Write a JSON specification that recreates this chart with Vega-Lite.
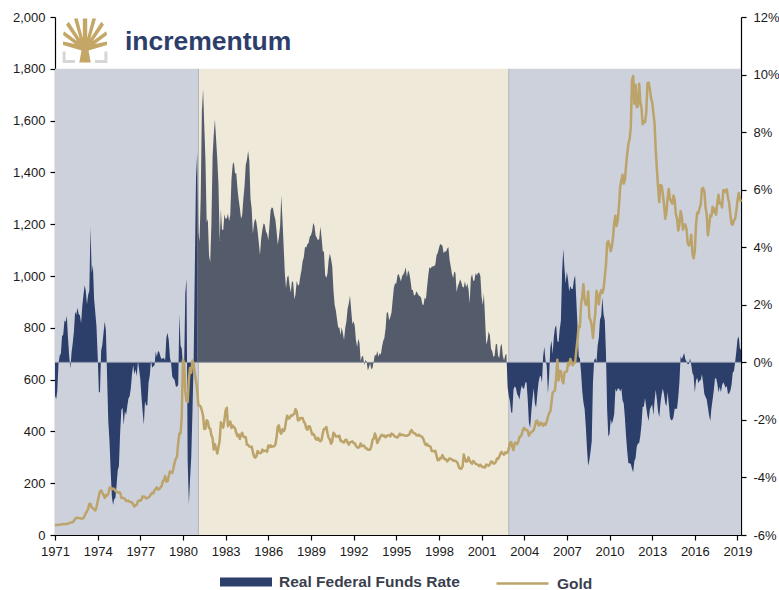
{
"$schema":"https://vega.github.io/schema/vega-lite/v6.json",
"width":686,"height":518,
"autosize":{"type":"none"},
"padding":{"left":55,"top":17,"right":38,"bottom":55},
"background":"white",
"config":{"view":{"stroke":null},
 "axis":{"labelFont":"Liberation Sans","labelFontSize":13,"labelColor":"#1a1a1a","domainColor":"#000","tickColor":"#000","tickSize":5,"grid":false,"labelFlush":false,"labelOverlap":false,"title":null},
 "legend":{"labelFont":"Liberation Sans","labelFontSize":15.5,"labelFontWeight":"bold","labelColor":"#3a3f4d","labelOffset":20,"labelLimit":400,"padding":0,"title":null}},
"datasets":{
"eras":[{"start":"1971-01-01","end":"1981-02-01","period":"1971-1980"},{"start":"1981-02-01","end":"2002-12-01","period":"1981-2002"},{"start":"2002-12-01","end":"2019-04-01","period":"2003-2019"}],
"m":[
{"d":"1971-01","g":37.9,"r":-1.16},{"d":"1971-02","g":38.7,"r":-1.28},{"d":"1971-03","g":38.9,"r":-0.99},{"d":"1971-04","g":39.0,"r":-0.04},{"d":"1971-05","g":40.5,"r":0.23},{"d":"1971-06","g":40.1,"r":0.31},{"d":"1971-07","g":41.0,"r":0.91},{"d":"1971-08","g":42.7,"r":0.97},{"d":"1971-09","g":42.0,"r":1.45},{"d":"1971-10","g":42.5,"r":1.40},{"d":"1971-11","g":42.9,"r":1.61},{"d":"1971-12","g":43.5,"r":0.84},
{"d":"1972-01","g":45.7,"r":0.20},{"d":"1972-02","g":48.3,"r":-0.21},{"d":"1972-03","g":48.3,"r":0.33},{"d":"1972-04","g":49.0,"r":0.67},{"d":"1972-05","g":54.6,"r":1.07},{"d":"1972-06","g":62.1,"r":1.76},{"d":"1972-07","g":65.7,"r":1.65},{"d":"1972-08","g":67.0,"r":1.90},{"d":"1972-09","g":65.5,"r":1.67},{"d":"1972-10","g":64.9,"r":1.64},{"d":"1972-11","g":62.9,"r":1.36},{"d":"1972-12","g":63.9,"r":1.93},
{"d":"1973-01","g":65.1,"r":2.34},{"d":"1973-02","g":74.2,"r":2.68},{"d":"1973-03","g":84.4,"r":2.49},{"d":"1973-04","g":90.5,"r":2.02},{"d":"1973-05","g":102.0,"r":2.34},{"d":"1973-06","g":120.1,"r":2.49},{"d":"1973-07","g":120.4,"r":4.70},{"d":"1973-08","g":106.8,"r":3.10},{"d":"1973-09","g":103.0,"r":3.38},{"d":"1973-10","g":100.1,"r":2.21},{"d":"1973-11","g":94.8,"r":1.73},{"d":"1973-12","g":106.7,"r":1.25},
{"d":"1974-01","g":129.2,"r":0.25},{"d":"1974-02","g":150.2,"r":-1.03},{"d":"1974-03","g":168.4,"r":-1.05},{"d":"1974-04","g":172.2,"r":0.41},{"d":"1974-05","g":163.3,"r":0.61},{"d":"1974-06","g":154.1,"r":1.03},{"d":"1974-07","g":143.0,"r":1.42},{"d":"1974-08","g":154.6,"r":1.11},{"d":"1974-09","g":151.8,"r":-0.56},{"d":"1974-10","g":158.8,"r":-2.04},{"d":"1974-11","g":181.7,"r":-2.75},{"d":"1974-12","g":183.9,"r":-3.77},
{"d":"1975-01","g":176.3,"r":-4.67},{"d":"1975-02","g":179.6,"r":-4.96},{"d":"1975-03","g":178.2,"r":-4.76},{"d":"1975-04","g":169.9,"r":-4.71},{"d":"1975-05","g":167.2,"r":-4.28},{"d":"1975-06","g":164.2,"r":-3.75},{"d":"1975-07","g":165.2,"r":-3.60},{"d":"1975-08","g":163.1,"r":-2.46},{"d":"1975-09","g":144.1,"r":-1.66},{"d":"1975-10","g":142.8,"r":-1.58},{"d":"1975-11","g":142.8,"r":-2.18},{"d":"1975-12","g":139.3,"r":-1.70},
{"d":"1976-01","g":131.6,"r":-1.83},{"d":"1976-02","g":131.0,"r":-1.53},{"d":"1976-03","g":132.6,"r":-1.26},{"d":"1976-04","g":128.4,"r":-1.18},{"d":"1976-05","g":127.2,"r":-0.91},{"d":"1976-06","g":125.7,"r":-0.42},{"d":"1976-07","g":118.2,"r":-0.09},{"d":"1976-08","g":109.9,"r":-0.41},{"d":"1976-09","g":114.4,"r":-0.25},{"d":"1976-10","g":116.4,"r":-0.48},{"d":"1976-11","g":130.8,"r":0.05},{"d":"1976-12","g":133.7,"r":-0.25},
{"d":"1977-01","g":132.3,"r":-0.59},{"d":"1977-02","g":136.3,"r":-1.22},{"d":"1977-03","g":148.4,"r":-1.71},{"d":"1977-04","g":149.1,"r":-2.17},{"d":"1977-05","g":146.5,"r":-1.35},{"d":"1977-06","g":141.0,"r":-1.51},{"d":"1977-07","g":143.4,"r":-1.48},{"d":"1977-08","g":144.8,"r":-0.70},{"d":"1977-09","g":149.6,"r":-0.46},{"d":"1977-10","g":158.3,"r":0.07},{"d":"1977-11","g":162.2,"r":-0.19},{"d":"1977-12","g":160.5,"r":-0.14},
{"d":"1978-01","g":173.2,"r":-0.10},{"d":"1978-02","g":178.2,"r":0.38},{"d":"1978-03","g":183.7,"r":0.19},{"d":"1978-04","g":175.4,"r":0.39},{"d":"1978-05","g":176.4,"r":0.36},{"d":"1978-06","g":183.5,"r":0.20},{"d":"1978-07","g":188.5,"r":0.11},{"d":"1978-08","g":206.2,"r":0.14},{"d":"1978-09","g":212.5,"r":0.15},{"d":"1978-10","g":227.2,"r":0.06},{"d":"1978-11","g":206.0,"r":0.86},{"d":"1978-12","g":207.0,"r":1.03},
{"d":"1979-01","g":227.3,"r":0.77},{"d":"1979-02","g":245.7,"r":0.16},{"d":"1979-03","g":242.1,"r":-0.01},{"d":"1979-04","g":239.2,"r":-0.49},{"d":"1979-05","g":257.3,"r":-0.56},{"d":"1979-06","g":279.6,"r":-0.61},{"d":"1979-07","g":294.6,"r":-0.83},{"d":"1979-08","g":301.4,"r":-0.86},{"d":"1979-09","g":355.3,"r":-0.77},{"d":"1979-10","g":392.0,"r":1.67},{"d":"1979-11","g":392.0,"r":0.58},{"d":"1979-12","g":459.0,"r":0.48},
{"d":"1980-01","g":675.3,"r":-0.08},{"d":"1980-02","g":665.3,"r":-0.07},{"d":"1980-03","g":553.6,"r":2.39},{"d":"1980-04","g":517.4,"r":2.91},{"d":"1980-05","g":513.8,"r":-3.42},{"d":"1980-06","g":600.7,"r":-4.93},{"d":"1980-07","g":645.0,"r":-4.07},{"d":"1980-08","g":626.5,"r":-3.29},{"d":"1980-09","g":673.6,"r":-1.73},{"d":"1980-10","g":661.2,"r":0.01},{"d":"1980-11","g":623.5,"r":3.25},{"d":"1980-12","g":594.9,"r":6.40},
{"d":"1981-01","g":557.5,"r":7.28},{"d":"1981-02","g":500.5,"r":4.53},{"d":"1981-03","g":499.8,"r":4.20},{"d":"1981-04","g":495.8,"r":5.72},{"d":"1981-05","g":479.7,"r":8.72},{"d":"1981-06","g":460.8,"r":9.50},{"d":"1981-07","g":409.3,"r":8.24},{"d":"1981-08","g":410.9,"r":7.02},{"d":"1981-09","g":443.2,"r":4.87},{"d":"1981-10","g":437.8,"r":4.98},{"d":"1981-11","g":413.4,"r":3.71},{"d":"1981-12","g":410.1,"r":3.47},
{"d":"1982-01","g":384.0,"r":4.82},{"d":"1982-02","g":374.2,"r":7.18},{"d":"1982-03","g":330.0,"r":7.88},{"d":"1982-04","g":350.4,"r":8.44},{"d":"1982-05","g":333.9,"r":7.75},{"d":"1982-06","g":314.9,"r":7.05},{"d":"1982-07","g":339.0,"r":6.19},{"d":"1982-08","g":364.4,"r":4.22},{"d":"1982-09","g":435.3,"r":5.31},{"d":"1982-10","g":422.2,"r":4.61},{"d":"1982-11","g":414.4,"r":4.60},{"d":"1982-12","g":444.7,"r":5.15},
{"d":"1983-01","g":481.3,"r":4.98},{"d":"1983-02","g":491.3,"r":5.01},{"d":"1983-03","g":419.8,"r":5.17},{"d":"1983-04","g":432.1,"r":4.90},{"d":"1983-05","g":438.4,"r":5.13},{"d":"1983-06","g":412.8,"r":6.38},{"d":"1983-07","g":422.7,"r":6.87},{"d":"1983-08","g":416.2,"r":6.96},{"d":"1983-09","g":411.7,"r":6.55},{"d":"1983-10","g":393.6,"r":6.58},{"d":"1983-11","g":381.6,"r":6.04},{"d":"1983-12","g":388.0,"r":5.67},
{"d":"1984-01","g":370.9,"r":5.36},{"d":"1984-02","g":386.3,"r":4.99},{"d":"1984-03","g":394.4,"r":5.11},{"d":"1984-04","g":381.2,"r":5.69},{"d":"1984-05","g":377.4,"r":6.12},{"d":"1984-06","g":377.9,"r":6.86},{"d":"1984-07","g":348.1,"r":7.03},{"d":"1984-08","g":348.1,"r":7.34},{"d":"1984-09","g":341.3,"r":7.00},{"d":"1984-10","g":340.2,"r":5.69},{"d":"1984-11","g":341.2,"r":5.33},{"d":"1984-12","g":320.2,"r":4.48},
{"d":"1985-01","g":303.1,"r":4.85},{"d":"1985-02","g":298.9,"r":5.00},{"d":"1985-03","g":304.0,"r":4.88},{"d":"1985-04","g":324.7,"r":4.57},{"d":"1985-05","g":316.2,"r":4.17},{"d":"1985-06","g":316.9,"r":3.73},{"d":"1985-07","g":317.0,"r":4.28},{"d":"1985-08","g":329.9,"r":4.60},{"d":"1985-09","g":323.4,"r":4.82},{"d":"1985-10","g":325.6,"r":4.79},{"d":"1985-11","g":325.1,"r":4.55},{"d":"1985-12","g":321.8,"r":4.47},
{"d":"1986-01","g":345.4,"r":4.24},{"d":"1986-02","g":339.0,"r":4.76},{"d":"1986-03","g":346.1,"r":5.28},{"d":"1986-04","g":340.4,"r":5.39},{"d":"1986-05","g":342.6,"r":5.35},{"d":"1986-06","g":342.7,"r":5.12},{"d":"1986-07","g":348.5,"r":4.96},{"d":"1986-08","g":376.3,"r":4.57},{"d":"1986-09","g":418.0,"r":4.09},{"d":"1986-10","g":423.3,"r":4.35},{"d":"1986-11","g":398.5,"r":4.74},{"d":"1986-12","g":390.8,"r":5.81},
{"d":"1987-01","g":408.2,"r":4.93},{"d":"1987-02","g":401.3,"r":4.00},{"d":"1987-03","g":408.9,"r":3.13},{"d":"1987-04","g":438.4,"r":2.57},{"d":"1987-05","g":460.4,"r":2.95},{"d":"1987-06","g":449.8,"r":3.03},{"d":"1987-07","g":450.6,"r":2.68},{"d":"1987-08","g":461.1,"r":2.43},{"d":"1987-09","g":460.1,"r":2.82},{"d":"1987-10","g":465.4,"r":2.79},{"d":"1987-11","g":467.2,"r":2.19},{"d":"1987-12","g":486.1,"r":2.37},
{"d":"1988-01","g":477.0,"r":2.83},{"d":"1988-02","g":442.6,"r":2.68},{"d":"1988-03","g":443.6,"r":2.68},{"d":"1988-04","g":452.1,"r":2.97},{"d":"1988-05","g":451.2,"r":3.19},{"d":"1988-06","g":451.4,"r":3.51},{"d":"1988-07","g":437.5,"r":3.65},{"d":"1988-08","g":431.4,"r":4.01},{"d":"1988-09","g":412.7,"r":3.99},{"d":"1988-10","g":406.2,"r":4.10},{"d":"1988-11","g":419.8,"r":4.15},{"d":"1988-12","g":419.2,"r":4.36},
{"d":"1989-01","g":404.5,"r":4.42},{"d":"1989-02","g":388.1,"r":4.56},{"d":"1989-03","g":390.4,"r":4.85},{"d":"1989-04","g":384.2,"r":4.74},{"d":"1989-05","g":371.3,"r":4.41},{"d":"1989-06","g":367.6,"r":4.33},{"d":"1989-07","g":375.0,"r":4.24},{"d":"1989-08","g":365.4,"r":4.29},{"d":"1989-09","g":361.9,"r":4.72},{"d":"1989-10","g":366.9,"r":4.34},{"d":"1989-11","g":393.7,"r":3.85},{"d":"1989-12","g":409.2,"r":3.85},
{"d":"1990-01","g":410.1,"r":3.03},{"d":"1990-02","g":416.7,"r":2.94},{"d":"1990-03","g":393.1,"r":3.08},{"d":"1990-04","g":374.3,"r":3.56},{"d":"1990-05","g":369.1,"r":3.78},{"d":"1990-06","g":352.3,"r":3.59},{"d":"1990-07","g":361.6,"r":3.35},{"d":"1990-08","g":394.8,"r":2.53},{"d":"1990-09","g":389.3,"r":2.00},{"d":"1990-10","g":380.8,"r":1.81},{"d":"1990-11","g":381.4,"r":1.51},{"d":"1990-12","g":378.2,"r":1.21},
{"d":"1991-01","g":383.7,"r":1.21},{"d":"1991-02","g":363.3,"r":0.95},{"d":"1991-03","g":363.5,"r":1.22},{"d":"1991-04","g":358.4,"r":1.01},{"d":"1991-05","g":356.8,"r":0.78},{"d":"1991-06","g":366.7,"r":1.20},{"d":"1991-07","g":367.7,"r":1.42},{"d":"1991-08","g":356.3,"r":1.86},{"d":"1991-09","g":348.7,"r":2.05},{"d":"1991-10","g":358.6,"r":2.31},{"d":"1991-11","g":359.6,"r":1.81},{"d":"1991-12","g":361.7,"r":1.33},
{"d":"1992-01","g":354.5,"r":1.43},{"d":"1992-02","g":353.9,"r":1.26},{"d":"1992-03","g":344.3,"r":0.78},{"d":"1992-04","g":338.5,"r":0.53},{"d":"1992-05","g":337.2,"r":0.82},{"d":"1992-06","g":340.8,"r":0.66},{"d":"1992-07","g":353.1,"r":0.05},{"d":"1992-08","g":342.9,"r":0.20},{"d":"1992-09","g":345.4,"r":0.22},{"d":"1992-10","g":344.4,"r":-0.10},{"d":"1992-11","g":335.0,"r":0.09},{"d":"1992-12","g":334.8,"r":0.02},
{"d":"1993-01","g":329.0,"r":-0.28},{"d":"1993-02","g":329.3,"r":-0.17},{"d":"1993-03","g":330.1,"r":-0.03},{"d":"1993-04","g":342.2,"r":-0.24},{"d":"1993-05","g":367.2,"r":-0.20},{"d":"1993-06","g":371.9,"r":0.04},{"d":"1993-07","g":392.0,"r":0.26},{"d":"1993-08","g":378.8,"r":0.23},{"d":"1993-09","g":355.3,"r":0.39},{"d":"1993-10","g":364.2,"r":0.19},{"d":"1993-11","g":373.8,"r":0.32},{"d":"1993-12","g":383.3,"r":0.26},
{"d":"1994-01","g":386.9,"r":0.55},{"d":"1994-02","g":381.9,"r":0.75},{"d":"1994-03","g":384.1,"r":0.84},{"d":"1994-04","g":377.3,"r":1.16},{"d":"1994-05","g":381.4,"r":1.71},{"d":"1994-06","g":385.6,"r":1.75},{"d":"1994-07","g":385.5,"r":1.46},{"d":"1994-08","g":380.4,"r":1.57},{"d":"1994-09","g":391.6,"r":1.73},{"d":"1994-10","g":389.8,"r":2.16},{"d":"1994-11","g":384.4,"r":2.59},{"d":"1994-12","g":379.3,"r":2.75},
{"d":"1995-01","g":378.6,"r":2.73},{"d":"1995-02","g":376.5,"r":3.02},{"d":"1995-03","g":382.1,"r":3.08},{"d":"1995-04","g":391.0,"r":2.95},{"d":"1995-05","g":385.2,"r":2.81},{"d":"1995-06","g":387.6,"r":3.00},{"d":"1995-07","g":386.2,"r":3.05},{"d":"1995-08","g":383.7,"r":3.14},{"d":"1995-09","g":383.1,"r":3.30},{"d":"1995-10","g":383.0,"r":2.96},{"d":"1995-11","g":385.5,"r":3.20},{"d":"1995-12","g":387.4,"r":3.10},
{"d":"1996-01","g":400.0,"r":2.86},{"d":"1996-02","g":404.8,"r":2.52},{"d":"1996-03","g":396.2,"r":2.51},{"d":"1996-04","g":392.9,"r":2.32},{"d":"1996-05","g":391.9,"r":2.34},{"d":"1996-06","g":385.3,"r":2.47},{"d":"1996-07","g":383.5,"r":2.40},{"d":"1996-08","g":387.5,"r":2.32},{"d":"1996-09","g":383.1,"r":2.30},{"d":"1996-10","g":381.1,"r":2.24},{"d":"1996-11","g":378.0,"r":2.01},{"d":"1996-12","g":369.0,"r":1.99},
{"d":"1997-01","g":354.9,"r":2.25},{"d":"1997-02","g":346.6,"r":2.19},{"d":"1997-03","g":351.8,"r":2.59},{"d":"1997-04","g":344.5,"r":3.01},{"d":"1997-05","g":343.8,"r":3.30},{"d":"1997-06","g":340.8,"r":3.26},{"d":"1997-07","g":324.1,"r":3.32},{"d":"1997-08","g":324.0,"r":3.34},{"d":"1997-09","g":322.8,"r":3.34},{"d":"1997-10","g":324.9,"r":3.40},{"d":"1997-11","g":306.0,"r":3.72},{"d":"1997-12","g":288.7,"r":3.80},
{"d":"1998-01","g":289.2,"r":3.96},{"d":"1998-02","g":297.5,"r":4.11},{"d":"1998-03","g":295.9,"r":4.09},{"d":"1998-04","g":308.4,"r":4.05},{"d":"1998-05","g":299.1,"r":3.79},{"d":"1998-06","g":292.3,"r":3.86},{"d":"1998-07","g":292.9,"r":3.84},{"d":"1998-08","g":284.1,"r":3.95},{"d":"1998-09","g":288.9,"r":4.01},{"d":"1998-10","g":295.9,"r":3.57},{"d":"1998-11","g":294.1,"r":3.33},{"d":"1998-12","g":291.6,"r":3.08},
{"d":"1999-01","g":287.1,"r":2.93},{"d":"1999-02","g":287.2,"r":3.16},{"d":"1999-03","g":285.9,"r":3.11},{"d":"1999-04","g":282.4,"r":2.44},{"d":"1999-05","g":276.4,"r":2.64},{"d":"1999-06","g":261.3,"r":2.76},{"d":"1999-07","g":256.1,"r":2.89},{"d":"1999-08","g":256.7,"r":2.77},{"d":"1999-09","g":264.7,"r":2.62},{"d":"1999-10","g":310.7,"r":2.60},{"d":"1999-11","g":293.2,"r":2.82},{"d":"1999-12","g":283.1,"r":2.60},
{"d":"2000-01","g":284.3,"r":2.75},{"d":"2000-02","g":299.9,"r":2.53},{"d":"2000-03","g":286.4,"r":2.05},{"d":"2000-04","g":280.0,"r":2.92},{"d":"2000-05","g":275.1,"r":3.07},{"d":"2000-06","g":285.7,"r":2.83},{"d":"2000-07","g":281.6,"r":2.84},{"d":"2000-08","g":274.5,"r":3.10},{"d":"2000-09","g":273.7,"r":3.02},{"d":"2000-10","g":270.0,"r":3.11},{"d":"2000-11","g":266.0,"r":3.11},{"d":"2000-12","g":271.5,"r":3.00},
{"d":"2001-01","g":265.5,"r":2.28},{"d":"2001-02","g":261.9,"r":1.99},{"d":"2001-03","g":263.0,"r":2.41},{"d":"2001-04","g":260.5,"r":1.50},{"d":"2001-05","g":272.4,"r":0.61},{"d":"2001-06","g":270.2,"r":0.77},{"d":"2001-07","g":267.5,"r":1.07},{"d":"2001-08","g":272.4,"r":0.95},{"d":"2001-09","g":283.4,"r":0.47},{"d":"2001-10","g":283.1,"r":0.39},{"d":"2001-11","g":276.2,"r":0.19},{"d":"2001-12","g":275.9,"r":0.22},
{"d":"2002-01","g":281.7,"r":0.63},{"d":"2002-02","g":295.5,"r":0.64},{"d":"2002-03","g":294.0,"r":0.23},{"d":"2002-04","g":302.7,"r":0.15},{"d":"2002-05","g":314.5,"r":0.55},{"d":"2002-06","g":321.2,"r":0.65},{"d":"2002-07","g":313.3,"r":0.23},{"d":"2002-08","g":310.3,"r":0.06},{"d":"2002-09","g":319.2,"r":0.25},{"d":"2002-10","g":316.6,"r":0.3},{"d":"2002-11","g":319.2,"r":-0.86},{"d":"2002-12","g":333.4,"r":-1.16},
{"d":"2003-01","g":356.9,"r":-1.36},{"d":"2003-02","g":359.0,"r":-1.74},{"d":"2003-03","g":340.6,"r":-1.75},{"d":"2003-04","g":328.2,"r":-0.94},{"d":"2003-05","g":355.7,"r":-0.84},{"d":"2003-06","g":356.4,"r":-0.88},{"d":"2003-07","g":351.0,"r":-1.09},{"d":"2003-08","g":359.8,"r":-1.17},{"d":"2003-09","g":378.9,"r":-1.29},{"d":"2003-10","g":378.9,"r":-0.99},{"d":"2003-11","g":389.9,"r":-0.80},{"d":"2003-12","g":407.6,"r":-0.92},
{"d":"2004-01","g":414.0,"r":-0.90},{"d":"2004-02","g":405.3,"r":-0.69},{"d":"2004-03","g":406.7,"r":-0.70},{"d":"2004-04","g":403.0,"r":-1.30},{"d":"2004-05","g":383.4,"r":-2.10},{"d":"2004-06","g":392.0,"r":-2.27},{"d":"2004-07","g":398.1,"r":-1.74},{"d":"2004-08","g":400.5,"r":-1.27},{"d":"2004-09","g":405.3,"r":-0.89},{"d":"2004-10","g":420.5,"r":-1.44},{"d":"2004-11","g":439.4,"r":-1.57},{"d":"2004-12","g":442.1,"r":-1.14},
{"d":"2005-01","g":424.0,"r":-0.72},{"d":"2005-02","g":423.4,"r":-0.50},{"d":"2005-03","g":434.2,"r":-0.47},{"d":"2005-04","g":428.9,"r":-0.71},{"d":"2005-05","g":421.9,"r":0.20},{"d":"2005-06","g":430.7,"r":0.54},{"d":"2005-07","g":424.5,"r":0.06},{"d":"2005-08","g":437.9,"r":-0.10},{"d":"2005-09","g":456.0,"r":-1.08},{"d":"2005-10","g":469.9,"r":-0.52},{"d":"2005-11","g":476.7,"r":0.50},{"d":"2005-12","g":509.8,"r":0.76},
{"d":"2006-01","g":549.9,"r":0.29},{"d":"2006-02","g":555.0,"r":0.89},{"d":"2006-03","g":557.1,"r":1.19},{"d":"2006-04","g":610.6,"r":1.29},{"d":"2006-05","g":676.5,"r":0.74},{"d":"2006-06","g":596.2,"r":0.69},{"d":"2006-07","g":633.8,"r":1.14},{"d":"2006-08","g":632.6,"r":1.45},{"d":"2006-09","g":598.2,"r":3.15},{"d":"2006-10","g":585.8,"r":3.95},{"d":"2006-11","g":627.8,"r":3.25},{"d":"2006-12","g":629.8,"r":2.74},
{"d":"2007-01","g":631.2,"r":3.15},{"d":"2007-02","g":664.8,"r":2.86},{"d":"2007-03","g":654.9,"r":2.46},{"d":"2007-04","g":679.4,"r":2.65},{"d":"2007-05","g":666.9,"r":2.55},{"d":"2007-06","g":655.5,"r":2.55},{"d":"2007-07","g":665.3,"r":2.86},{"d":"2007-08","g":665.4,"r":3.02},{"d":"2007-09","g":712.7,"r":2.14},{"d":"2007-10","g":754.6,"r":1.26},{"d":"2007-11","g":806.3,"r":0.19},{"d":"2007-12","g":803.2,"r":0.14},
{"d":"2008-01","g":889.6,"r":-0.36},{"d":"2008-02","g":922.3,"r":-1.02},{"d":"2008-03","g":968.4,"r":-1.39},{"d":"2008-04","g":909.7,"r":-1.62},{"d":"2008-05","g":888.7,"r":-2.22},{"d":"2008-06","g":889.5,"r":-3.00},{"d":"2008-07","g":939.8,"r":-3.59},{"d":"2008-08","g":839.0,"r":-3.40},{"d":"2008-09","g":829.9,"r":-3.09},{"d":"2008-10","g":806.6,"r":-2.73},{"d":"2008-11","g":760.9,"r":-0.71},{"d":"2008-12","g":816.1,"r":0.06},
{"d":"2009-01","g":858.7,"r":0.15},{"d":"2009-02","g":943.2,"r":0.02},{"d":"2009-03","g":924.3,"r":0.58},{"d":"2009-04","g":890.2,"r":0.85},{"d":"2009-05","g":928.6,"r":1.48},{"d":"2009-06","g":945.7,"r":1.61},{"d":"2009-07","g":934.2,"r":2.26},{"d":"2009-08","g":949.4,"r":1.66},{"d":"2009-09","g":996.6,"r":1.45},{"d":"2009-10","g":1043.2,"r":0.32},{"d":"2009-11","g":1127.0,"r":-1.68},{"d":"2009-12","g":1134.7,"r":-2.58},
{"d":"2010-01","g":1117.9,"r":-2.49},{"d":"2010-02","g":1095.4,"r":-1.97},{"d":"2010-03","g":1113.3,"r":-2.14},{"d":"2010-04","g":1148.7,"r":-2.00},{"d":"2010-05","g":1205.4,"r":-1.80},{"d":"2010-06","g":1232.9,"r":-0.92},{"d":"2010-07","g":1193.0,"r":-1.02},{"d":"2010-08","g":1215.8,"r":-0.91},{"d":"2010-09","g":1271.0,"r":-0.91},{"d":"2010-10","g":1342.0,"r":-1.01},{"d":"2010-11","g":1369.9,"r":-0.91},{"d":"2010-12","g":1390.6,"r":-1.32},
{"d":"2011-01","g":1356.4,"r":-1.43},{"d":"2011-02","g":1372.7,"r":-1.94},{"d":"2011-03","g":1424.0,"r":-2.56},{"d":"2011-04","g":1473.8,"r":-3.10},{"d":"2011-05","g":1510.4,"r":-3.51},{"d":"2011-06","g":1528.7,"r":-3.51},{"d":"2011-07","g":1572.8,"r":-3.53},{"d":"2011-08","g":1755.8,"r":-3.70},{"d":"2011-09","g":1771.9,"r":-3.82},{"d":"2011-10","g":1665.2,"r":-3.43},{"d":"2011-11","g":1738.6,"r":-3.32},{"d":"2011-12","g":1652.2,"r":-2.93},
{"d":"2012-01","g":1656.1,"r":-2.82},{"d":"2012-02","g":1742.6,"r":-2.80},{"d":"2012-03","g":1673.8,"r":-2.57},{"d":"2012-04","g":1650.1,"r":-2.16},{"d":"2012-05","g":1585.5,"r":-1.54},{"d":"2012-06","g":1596.7,"r":-1.54},{"d":"2012-07","g":1593.9,"r":-1.24},{"d":"2012-08","g":1630.3,"r":-1.57},{"d":"2012-09","g":1744.5,"r":-1.86},{"d":"2012-10","g":1746.6,"r":-2.04},{"d":"2012-11","g":1721.6,"r":-1.64},{"d":"2012-12","g":1688.5,"r":-1.54},
{"d":"2013-01","g":1670.0,"r":-1.46},{"d":"2013-02","g":1627.6,"r":-1.85},{"d":"2013-03","g":1593.1,"r":-1.36},{"d":"2013-04","g":1487.9,"r":-0.95},{"d":"2013-05","g":1414.0,"r":-1.29},{"d":"2013-06","g":1343.4,"r":-1.71},{"d":"2013-07","g":1285.5,"r":-1.91},{"d":"2013-08","g":1351.7,"r":-1.42},{"d":"2013-09","g":1348.6,"r":-1.12},{"d":"2013-10","g":1316.6,"r":-0.91},{"d":"2013-11","g":1275.8,"r":-1.12},{"d":"2013-12","g":1221.5,"r":-1.41},
{"d":"2014-01","g":1244.3,"r":-1.53},{"d":"2014-02","g":1299.6,"r":-1.03},{"d":"2014-03","g":1336.1,"r":-1.42},{"d":"2014-04","g":1298.5,"r":-1.91},{"d":"2014-05","g":1288.7,"r":-2.01},{"d":"2014-06","g":1279.1,"r":-2.00},{"d":"2014-07","g":1310.6,"r":-1.91},{"d":"2014-08","g":1295.1,"r":-1.61},{"d":"2014-09","g":1236.6,"r":-1.61},{"d":"2014-10","g":1222.5,"r":-1.61},{"d":"2014-11","g":1175.3,"r":-1.21},{"d":"2014-12","g":1200.6,"r":-0.68},
{"d":"2015-01","g":1250.8,"r":0.21},{"d":"2015-02","g":1227.1,"r":0.11},{"d":"2015-03","g":1178.6,"r":0.21},{"d":"2015-04","g":1198.9,"r":0.32},{"d":"2015-05","g":1198.6,"r":0.12},{"d":"2015-06","g":1181.5,"r":0.03},{"d":"2015-07","g":1128.3,"r":-0.07},{"d":"2015-08","g":1117.9,"r":-0.06},{"d":"2015-09","g":1124.6,"r":0.14},{"d":"2015-10","g":1159.3,"r":-0.08},{"d":"2015-11","g":1086.4,"r":-0.38},{"d":"2015-12","g":1068.3,"r":-0.46},
{"d":"2016-01","g":1097.9,"r":-1.06},{"d":"2016-02","g":1199.5,"r":-0.62},{"d":"2016-03","g":1245.1,"r":-0.54},{"d":"2016-04","g":1242.3,"r":-0.73},{"d":"2016-05","g":1260.9,"r":-0.63},{"d":"2016-06","g":1276.4,"r":-0.62},{"d":"2016-07","g":1336.7,"r":-0.41},{"d":"2016-08","g":1340.2,"r":-0.70},{"d":"2016-09","g":1326.6,"r":-1.10},{"d":"2016-10","g":1266.6,"r":-1.20},{"d":"2016-11","g":1238.4,"r":-1.29},{"d":"2016-12","g":1157.4,"r":-1.56},
{"d":"2017-01","g":1192.1,"r":-1.85},{"d":"2017-02","g":1234.2,"r":-2.04},{"d":"2017-03","g":1231.1,"r":-1.61},{"d":"2017-04","g":1266.9,"r":-1.30},{"d":"2017-05","g":1246.0,"r":-0.99},{"d":"2017-06","g":1260.3,"r":-0.56},{"d":"2017-07","g":1236.8,"r":-0.55},{"d":"2017-08","g":1283.0,"r":-0.74},{"d":"2017-09","g":1314.1,"r":-1.05},{"d":"2017-10","g":1279.5,"r":-0.85},{"d":"2017-11","g":1281.9,"r":-1.04},{"d":"2017-12","g":1264.5,"r":-0.80},
{"d":"2018-01","g":1331.3,"r":-0.69},{"d":"2018-02","g":1330.7,"r":-0.78},{"d":"2018-03","g":1324.7,"r":-0.89},{"d":"2018-04","g":1334.8,"r":-0.81},{"d":"2018-05","g":1303.5,"r":-1.10},{"d":"2018-06","g":1281.6,"r":-1.08},{"d":"2018-07","g":1237.7,"r":-0.99},{"d":"2018-08","g":1201.7,"r":-0.79},{"d":"2018-09","g":1198.4,"r":-0.35},{"d":"2018-10","g":1215.4,"r":-0.31},{"d":"2018-11","g":1220.7,"r":0.00},{"d":"2018-12","g":1250.4,"r":0.37},
{"d":"2019-01","g":1291.8,"r":0.80},{"d":"2019-02","g":1320.1,"r":0.90},{"d":"2019-03","g":1300.9,"r":0.51},{"d":"2019-04","g":1285.9,"r":0.42}
]},
"layer":[
 {"data":{"name":"eras"},"layer":[
  {"mark":{"type":"rect"},
   "encoding":{
    "x":{"field":"start","type":"temporal","scale":{"domain":[{"year":1971,"month":1,"date":1},{"year":2019,"month":4,"date":1}]},"axis":{"format":"%Y","tickCount":{"interval":"year","step":3},"labelPadding":5,"domainWidth":1.2,"tickWidth":1.2}},
    "x2":{"field":"end"},
    "y":{"datum":0,"type":"quantitative","scale":{"domain":[0,2000]},"axis":null},
    "y2":{"datum":1800},
    "color":{"field":"period","type":"nominal","scale":{"domain":["1971-1980","1981-2002","2003-2019"],"range":["#ccd1dc","#efe9da","#ccd1dc"]},"legend":null}}},
  {"transform":[{"filter":"datum.period != '1971-1980'"}],
   "mark":{"type":"rule","color":"#b5b5b5","strokeWidth":1},
   "encoding":{"x":{"field":"start","type":"temporal"},"y":{"datum":0,"type":"quantitative"},"y2":{"datum":1800}}}
 ]},
 {"data":{"name":"m"},"layer":[
  {"transform":[{"filter":{"field":"d","lte":{"year":1981,"month":1,"date":1}}}],
   "mark":{"type":"area","interpolate":"linear"},
   "encoding":{
    "x":{"field":"d","type":"temporal"},
    "y":{"field":"r","type":"quantitative","scale":{"domain":[-6,12]},"axis":{"orient":"right","values":[-6,-4,-2,0,2,4,6,8,10,12],"labelExpr":"datum.value + '%'","labelPadding":7,"domainWidth":1.2,"tickWidth":1.2}},
    "y2":{"datum":0},
    "fill":{"datum":"Real Federal Funds Rate","type":"nominal","scale":{"range":["#2c3e6a"]},
      "legend":{"orient":"none","legendX":178,"legendY":552,"symbolType":"M -2 -0.34 L 2 -0.34 L 2 0.34 L -2 0.34 Z","symbolSize":676,"symbolStrokeWidth":0,"symbolOpacity":1}}}},
  {"transform":[{"filter":{"field":"d","range":[{"year":1981,"month":1,"date":1},{"year":2002,"month":10,"date":1}]}}],
   "mark":{"type":"area","interpolate":"linear","fill":"#545b6a"},
   "encoding":{"x":{"field":"d","type":"temporal"},"y":{"field":"r","type":"quantitative"},"y2":{"datum":0}}},
  {"transform":[{"filter":{"field":"d","gte":{"year":2002,"month":10,"date":1}}}],
   "mark":{"type":"area","interpolate":"linear"},
   "encoding":{"x":{"field":"d","type":"temporal"},"y":{"field":"r","type":"quantitative"},"y2":{"datum":0},
    "fill":{"datum":"Real Federal Funds Rate","type":"nominal"}}},
  {"data":{"values":[{"rate":0}]},
   "mark":{"type":"rule","color":"#8e95a8","strokeWidth":1},
   "encoding":{"y":{"field":"rate","type":"quantitative"}}}
 ]},
 {"data":{"name":"m"},"layer":[
  {"mark":{"type":"line","strokeWidth":2.5,"strokeJoin":"round","interpolate":"linear"},
   "encoding":{
    "x":{"field":"d","type":"temporal"},
    "y":{"field":"g","type":"quantitative","scale":{"domain":[0,2000]},"axis":{"orient":"left","values":[0,200,400,600,800,1000,1200,1400,1600,1800,2000],"format":",.0f","labelPadding":5,"domainWidth":1.2,"tickWidth":1.2}},
    "stroke":{"datum":"Gold","type":"nominal","scale":{"range":["#bca36a"]},
      "legend":{"orient":"none","legendX":453,"legendY":552,"symbolType":"M -2 0 L 2 0","symbolSize":676,"symbolStrokeWidth":2.5}}}},
  {"data":{"values":[{"label":"incrementum"}]},
   "mark":{"type":"point","shape":"M -0.26 1 L -0.16 0.45 L -1 0.2 L -1 0.04 L -0.45 0.16 L -1 -0.25 L -0.96 -0.42 L -0.36 0.02 L -0.86 -0.72 L -0.74 -0.86 L -0.24 -0.08 L -0.5 -1 L -0.33 -1 L -0.1 -0.12 L -0.1 -1 L 0.1 -1 L 0.1 -0.12 L 0.33 -1 L 0.5 -1 L 0.24 -0.08 L 0.74 -0.86 L 0.86 -0.72 L 0.36 0.02 L 0.96 -0.42 L 1 -0.25 L 0.45 0.16 L 1 0.04 L 1 0.2 L 0.16 0.45 L 0.26 1 Z","filled":true,"fill":"#c4a766","strokeWidth":0,"size":1936,"opacity":1},
   "encoding":{"x":{"datum":{"year":1973,"month":2,"date":10},"type":"temporal"},"y":{"datum":1909,"type":"quantitative"}}},
  {"data":{"values":[{"label":"incrementum"}]},
   "mark":{"type":"point","shape":"M -0.95 0.5 L -0.95 0.95 L -0.45 0.95 M 0.45 0.95 L 0.95 0.95 L 0.95 0.5","filled":false,"stroke":"#d6d6d6","strokeWidth":3,"size":1936,"opacity":1},
   "encoding":{"x":{"datum":{"year":1973,"month":2,"date":10},"type":"temporal"},"y":{"datum":1909,"type":"quantitative"}}},
  {"data":{"values":[{"label":"incrementum"}]},
   "mark":{"type":"text","align":"left","baseline":"alphabetic","font":"Liberation Sans","fontSize":26.5,"fontWeight":"bold","fill":"#2d3e6a"},
   "encoding":{"x":{"datum":{"year":1975,"month":12,"date":2},"type":"temporal"},"y":{"datum":1872,"type":"quantitative"},"text":{"field":"label"}}}
 ]}
],
"resolve":{"scale":{"y":"independent"}}
}
